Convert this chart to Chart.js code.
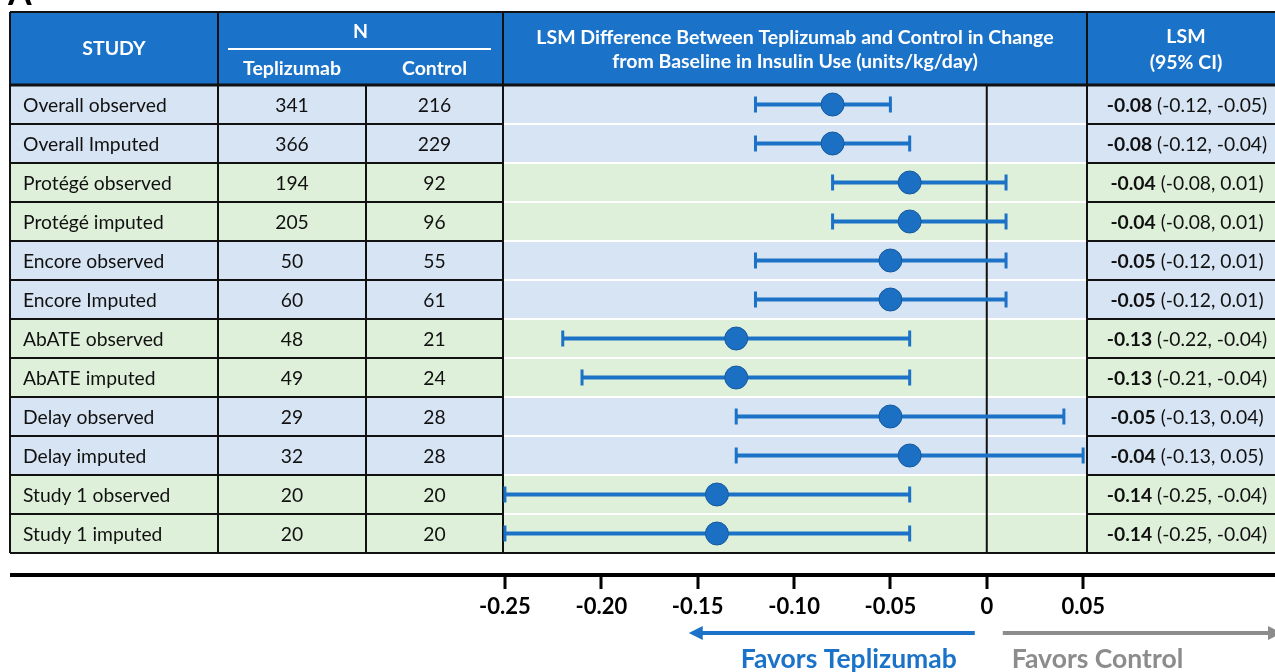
<!DOCTYPE html>
<html>
<head>
<meta charset="utf-8">
<title>LSM difference in insulin use by study</title>
<script src="https://cdn.jsdelivr.net/npm/chart.js@4"></script>
<style>
  html, body { margin: 0; padding: 0; background: #ffffff; }
  #wrap { width: 1275px; height: 672px; }
</style>
</head>
<body>
<div id="wrap"><canvas id="forest" width="1275" height="672"></canvas></div>
<script>
// Study rows, top to bottom
const studies = [
  'Overall observed', 'Overall Imputed',
  'Protégé observed', 'Protégé imputed',
  'Encore observed', 'Encore Imputed',
  'AbATE observed', 'AbATE imputed',
  'Delay observed', 'Delay imputed',
  'Study 1 observed', 'Study 1 imputed'
];
const nTeplizumab = [341, 366, 194, 205, 50, 60, 48, 49, 29, 32, 20, 20];
const nControl    = [216, 229, 92, 96, 55, 61, 21, 24, 28, 28, 20, 20];
// Least-squares mean difference and 95% CI (units/kg/day)
const lsmDiff = [-0.08, -0.08, -0.04, -0.04, -0.05, -0.05, -0.13, -0.13, -0.05, -0.04, -0.14, -0.14];
const ciLow   = [-0.12, -0.12, -0.08, -0.08, -0.12, -0.12, -0.22, -0.21, -0.13, -0.13, -0.25, -0.25];
const ciHigh  = [-0.05, -0.04, 0.01, 0.01, 0.01, 0.01, -0.04, -0.04, 0.04, 0.05, -0.04, -0.04];
// Row shading groups: 0 = blue, 1 = green
const rowGroup = [0, 0, 1, 1, 0, 0, 1, 1, 0, 0, 1, 1];
// Axis ticks
const tickValues = [-0.25, -0.20, -0.15, -0.10, -0.05, 0, 0.05];
const tickLabels = ['-0.25', '-0.20', '-0.15', '-0.10', '-0.05', '0', '0.05'];

const FONT = 'Lato, "Open Sans", sans-serif';
const BLUE = '#1a73c8';
const ROW_BG = ['#d7e4f3', '#dff0da'];
const HEAD_PX = 19.5;
const BODY_PX = 19.3;

// table geometry
const T = {
  left: 10, right: 1284, top: 12, headBottom: 85, bottom: 553,
  colStudy: 218, colTep: 366, colPlot: 503, colLsm: 1087
};

function fmt(v) { return v.toFixed(2); }

const tablePlugin = {
  id: 'forestTable',
  beforeDatasetsDraw(chart) {
    const ctx = chart.ctx;
    const xs = chart.scales.x, ys = chart.scales.y;
    const rowH = (T.bottom - T.headBottom) / studies.length;
    ctx.save();
    // panel letter, partly cut by the top edge
    ctx.fillStyle = '#000';
    ctx.font = 'bold 34px ' + FONT;
    ctx.textBaseline = 'alphabetic';
    ctx.textAlign = 'left';
    ctx.fillText('A', 8, 5);

    // header band
    ctx.fillStyle = BLUE;
    ctx.fillRect(T.left, T.top, T.right - T.left, T.headBottom - T.top);
    // row backgrounds
    studies.forEach((s, i) => {
      ctx.fillStyle = ROW_BG[rowGroup[i]];
      ctx.fillRect(T.left, T.headBottom + i * rowH, T.right - T.left, rowH);
    });
    // row separators: black in table columns, white in plot column
    ctx.lineWidth = 2;
    for (let i = 1; i < studies.length; i++) {
      const y = T.headBottom + i * rowH;
      ctx.strokeStyle = '#111';
      ctx.beginPath();
      ctx.moveTo(T.left, y); ctx.lineTo(T.colPlot, y);
      ctx.moveTo(T.colLsm, y); ctx.lineTo(T.right, y);
      ctx.stroke();
      ctx.strokeStyle = '#ffffff';
      ctx.beginPath();
      ctx.moveTo(T.colPlot + 1, y); ctx.lineTo(T.colLsm - 1, y);
      ctx.stroke();
    }
    // vertical borders
    ctx.strokeStyle = '#111';
    ctx.lineWidth = 2;
    ctx.beginPath();
    [T.left, T.colStudy, T.colPlot, T.colLsm].forEach(x => {
      ctx.moveTo(x, T.top); ctx.lineTo(x, T.bottom);
    });
    ctx.moveTo(T.colTep, T.headBottom); ctx.lineTo(T.colTep, T.bottom);
    ctx.moveTo(T.left, T.top); ctx.lineTo(T.right, T.top);
    ctx.moveTo(T.left, T.bottom); ctx.lineTo(T.right, T.bottom);
    ctx.stroke();
    ctx.lineWidth = 3;
    ctx.beginPath();
    ctx.moveTo(T.left, T.headBottom); ctx.lineTo(T.right, T.headBottom);
    ctx.stroke();
    // zero reference line
    const x0 = xs.getPixelForValue(0);
    ctx.lineWidth = 2;
    ctx.beginPath();
    ctx.moveTo(x0, T.headBottom); ctx.lineTo(x0, T.bottom);
    ctx.stroke();

    // header text
    ctx.fillStyle = '#ffffff';
    ctx.textAlign = 'center';
    ctx.textBaseline = 'middle';
    ctx.font = 'bold ' + HEAD_PX + 'px ' + FONT;
    ctx.fillText('STUDY', (T.left + T.colStudy) / 2, 49);
    ctx.fillText('N', (T.colStudy + T.colPlot) / 2, 32);
    ctx.fillText('Teplizumab', (T.colStudy + T.colTep) / 2, 69);
    ctx.fillText('Control', (T.colTep + T.colPlot) / 2, 69);
    ctx.fillText('LSM Difference Between Teplizumab and Control in Change', (T.colPlot + T.colLsm) / 2, 38);
    ctx.fillText('from Baseline in Insulin Use (units/kg/day)', (T.colPlot + T.colLsm) / 2, 62);
    ctx.fillText('LSM', 1186, 37);
    ctx.fillText('(95% CI)', 1186, 63);
    ctx.strokeStyle = '#ffffff';
    ctx.lineWidth = 2;
    ctx.beginPath();
    ctx.moveTo(228, 49); ctx.lineTo(491, 49);
    ctx.stroke();

    // body text
    ctx.fillStyle = '#111';
    studies.forEach((s, i) => {
      const y = ys.getPixelForValue(i) + 1;
      ctx.font = BODY_PX + 'px ' + FONT;
      ctx.textAlign = 'left';
      ctx.fillText(s, 23, y);
      ctx.textAlign = 'center';
      ctx.fillText(String(nTeplizumab[i]), (T.colStudy + T.colTep) / 2, y);
      ctx.fillText(String(nControl[i]), (T.colTep + T.colPlot) / 2, y);
      // LSM (95% CI): bold estimate, regular interval
      const bold = fmt(lsmDiff[i]);
      const rest = ' (' + fmt(ciLow[i]) + ', ' + fmt(ciHigh[i]) + ')';
      ctx.font = 'bold ' + BODY_PX + 'px ' + FONT;
      const wb = ctx.measureText(bold).width;
      ctx.font = BODY_PX + 'px ' + FONT;
      const wr = ctx.measureText(rest).width;
      const start = 1187 - (wb + wr) / 2;
      ctx.textAlign = 'left';
      ctx.font = 'bold ' + BODY_PX + 'px ' + FONT;
      ctx.fillText(bold, start, y);
      ctx.font = BODY_PX + 'px ' + FONT;
      ctx.fillText(rest, start + wb, y);
    });

    // confidence intervals
    ctx.strokeStyle = '#1c72c6';
    studies.forEach((s, i) => {
      const y = ys.getPixelForValue(i);
      const a = xs.getPixelForValue(ciLow[i]);
      const b = xs.getPixelForValue(ciHigh[i]);
      ctx.lineWidth = 4;
      ctx.beginPath();
      ctx.moveTo(a, y); ctx.lineTo(b, y);
      ctx.stroke();
      ctx.lineWidth = 3;
      ctx.beginPath();
      ctx.moveTo(a, y - 8); ctx.lineTo(a, y + 8);
      ctx.moveTo(b, y - 8); ctx.lineTo(b, y + 8);
      ctx.stroke();
    });
    ctx.restore();
  },
  afterDraw(chart) {
    const ctx = chart.ctx;
    const xs = chart.scales.x;
    ctx.save();
    // axis line and tick marks
    ctx.fillStyle = '#000';
    ctx.fillRect(T.left, 573, 1275 - T.left, 4);
    tickValues.forEach(v => {
      const x = Math.round(xs.getPixelForValue(v));
      ctx.fillRect(x - 1.5, 576, 3, 13);
    });
    // direction arrows
    const x0 = xs.getPixelForValue(0);
    ctx.lineWidth = 4;
    ctx.strokeStyle = BLUE; ctx.fillStyle = BLUE;
    ctx.beginPath();
    ctx.moveTo(x0 - 12, 633); ctx.lineTo(x0 - 286, 633);
    ctx.stroke();
    ctx.beginPath();
    ctx.moveTo(x0 - 298, 633); ctx.lineTo(x0 - 284, 626); ctx.lineTo(x0 - 284, 640);
    ctx.closePath(); ctx.fill();
    ctx.strokeStyle = '#8c8c8c'; ctx.fillStyle = '#8c8c8c';
    ctx.beginPath();
    ctx.moveTo(x0 + 16, 633); ctx.lineTo(1268, 633);
    ctx.stroke();
    ctx.beginPath();
    ctx.moveTo(1282, 633); ctx.lineTo(1268, 626); ctx.lineTo(1268, 640);
    ctx.closePath(); ctx.fill();
    ctx.font = 'bold 26.5px ' + FONT;
    ctx.textBaseline = 'middle';
    ctx.textAlign = 'right';
    ctx.fillStyle = BLUE;
    ctx.fillText('Favors Teplizumab', x0 - 30, 659);
    ctx.textAlign = 'left';
    ctx.fillStyle = '#8c8c8c';
    ctx.fillText('Favors Control', x0 + 25, 659);
    ctx.restore();
  }
};

new Chart(document.getElementById('forest'), {
  type: 'scatter',
  data: {
    datasets: [{
      label: 'LSM difference',
      data: lsmDiff.map((v, i) => ({ x: v, y: i })),
      pointRadius: 11.5,
      pointHoverRadius: 11.5,
      backgroundColor: '#1b70c4',
      borderColor: '#185a9e',
      borderWidth: 1
    }]
  },
  options: {
    responsive: false,
    devicePixelRatio: 1,
    animation: false,
    events: [],
    layout: { padding: { left: T.colPlot, right: 1275 - T.colLsm, top: T.headBottom, bottom: 0 } },
    plugins: { legend: { display: false }, tooltip: { enabled: false } },
    scales: {
      x: {
        type: 'linear',
        min: -0.251,
        max: 0.052,
        afterBuildTicks: s => { s.ticks = tickValues.map(v => ({ value: v })); },
        afterFit: s => { s.height = 672 - T.bottom; },
        grid: { display: false },
        border: { display: false },
        ticks: {
          padding: 33,
          color: '#000',
          font: { family: FONT, size: 22, weight: 'bold' },
          maxRotation: 0,
          autoSkip: false,
          callback: (v, i) => tickLabels[i]
        }
      },
      y: {
        type: 'linear',
        display: false,
        reverse: true,
        min: -0.5,
        max: studies.length - 0.5
      }
    }
  },
  plugins: [tablePlugin]
});
</script>
</body>
</html>
